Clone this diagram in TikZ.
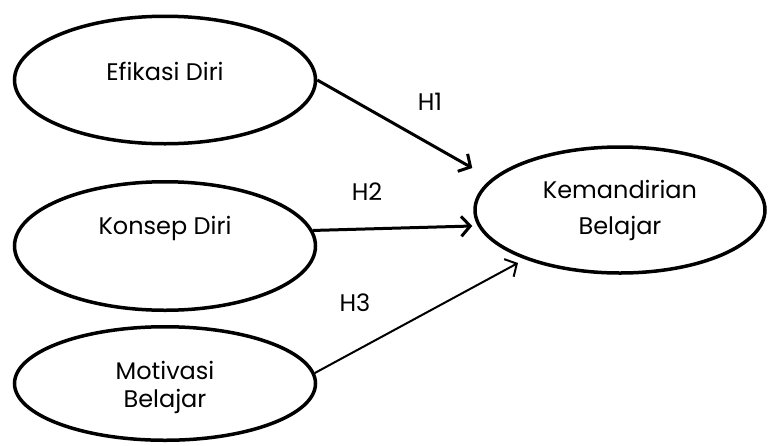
\documentclass[tikz,border=0pt]{standalone}
\usepackage{fontspec}
\setmainfont{Poppins}
\usetikzlibrary{positioning, arrows.meta, shapes.geometric}

\begin{document}
\begin{tikzpicture}[
    x=1pt, y=-1pt,
    var/.style={draw, ellipse, line width=3.5pt, minimum width=301pt, inner sep=0pt, align=center, font=\fontsize{24}{28}\selectfont},
    lbl/.style={font=\fontsize{24}{28}\selectfont},
    arrow/.style={-{Straight Barb[length=9pt, width=20pt]}, line width=3pt},
    thinarrow/.style={-{Straight Barb[length=9pt, width=20pt]}, line width=2pt},
  ]
  \useasboundingbox (0,0) rectangle (768,445);
  % latent variables
  \node[var, minimum height=127.5pt, label={[lbl, yshift=9pt]center:Efikasi Diri}] (efikasi) at (165,80) {};
  \node[var, minimum height=128.5pt, label={[lbl, yshift=18pt]center:Konsep Diri}] (konsep) at (165,246) {};
  \node[var, minimum height=113.5pt, label={[lbl, align=center, yshift=-4pt]center:Motivasi\\Belajar}] (motivasi) at (165,383.5) {};
  \node[var, minimum width=290pt, minimum height=126pt, font=\fontsize{24}{36}\selectfont] (kemandirian) at (620,210) {Kemandirian\\Belajar};
  % hypotheses
  \draw[arrow] (efikasi.east) -- ([xshift=-1pt, yshift=42pt]kemandirian.west);
  \draw[arrow] (konsep.6) -- ([xshift=-1pt, yshift=-16pt]kemandirian.west);
  \draw[thinarrow] (motivasi.4) -- ([shift={(-102pt,-53pt)}]kemandirian.center);
  \node[lbl] (h1) at (430,102) {H1};
  \node[lbl] (h2) at (367,192) {H2};
  \node[lbl] (h3) at (355,303) {H3};
\end{tikzpicture}
\end{document}
